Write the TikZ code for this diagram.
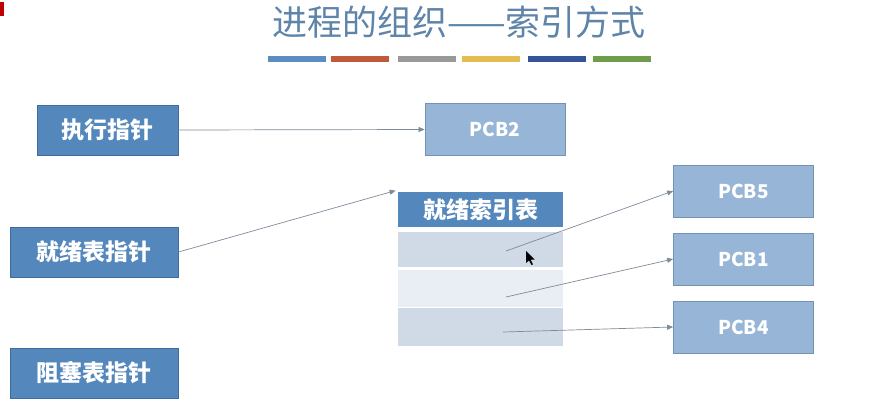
\documentclass[tikz,border=0pt]{standalone}
\usepackage{fontspec}
\setmainfont{Noto Sans CJK SC}
\usetikzlibrary{arrows.meta}
\definecolor{titleblue}{HTML}{5F84AA}
\definecolor{darkbox}{HTML}{5488BC}
\definecolor{darkedge}{HTML}{3F6D9A}
\definecolor{lightbox}{HTML}{97B5D6}
\definecolor{lightedge}{HTML}{7393B5}
\definecolor{rowA}{HTML}{D0D9E6}
\definecolor{rowB}{HTML}{E9EDF4}
\definecolor{linkgray}{HTML}{7E8C9A}
\definecolor{barA}{HTML}{5B8DC0}
\definecolor{barB}{HTML}{C15A3C}
\definecolor{barC}{HTML}{999999}
\definecolor{barD}{HTML}{E5BC52}
\definecolor{barE}{HTML}{34549A}
\definecolor{barF}{HTML}{6E9E4C}
\tikzset{
  ptrbox/.style={draw=darkedge, fill=darkbox, line width=0.8pt, text=white,
    font=\fontsize{23}{26}\selectfont\bfseries, inner sep=0pt},
  pcbbox/.style={draw=lightedge, fill=lightbox, line width=0.8pt, text=white,
    font=\fontsize{19}{22}\selectfont\bfseries, inner sep=0pt,
    minimum width=140pt, minimum height=52pt},
  rowbox/.style={draw=none, inner sep=0pt, minimum width=165pt},
  link/.style={draw=linkgray, line width=0.7pt,
    -{Triangle[length=6pt,width=5pt]}},
  bar/.style={line width=6pt},
}
\begin{document}
\begin{tikzpicture}[x=1pt, y=-1pt]
\useasboundingbox (0,0) rectangle (875,418);
\fill[white] (0,0) rectangle (875,418);

% corner mark
\fill[red!75!black] (0,2) rectangle (4,16);

% title and colour strip
\node[text=titleblue, font=\fontsize{35}{38}\selectfont] (title) at (459,22) {进程的组织——索引方式};
\foreach \x/\c in {268/barA, 331/barB, 398/barC, 462/barD, 528/barE, 593/barF}
  \draw[bar, \c] (\x,58.5) -- ++(58,0);

% pointer boxes
\node[ptrbox, minimum width=141pt, minimum height=50pt] (exec)  at (107.5,130) {执行指针};
\node[ptrbox, minimum width=168pt, minimum height=50pt] (ready) at (94,252)   {就绪表指针};
\node[ptrbox, minimum width=168pt, minimum height=50pt] (block) at (94,373)   {阻塞表指针};

% PCBs
\node[pcbbox] (pcb2) at (495,129.5) {PCB2};
\node[pcbbox] (pcb5) at (743.5,191) {PCB5};
\node[pcbbox] (pcb1) at (743.5,259) {PCB1};
\node[pcbbox] (pcb4) at (743.5,327) {PCB4};

% ready index table
\node[ptrbox, draw=none, minimum width=165pt, minimum height=35pt] (head) at (480.5,209.5) {就绪索引表};
\node[rowbox, fill=rowA, minimum height=35pt] (row1) at (480.5,249.5) {};
\node[rowbox, fill=rowB, minimum height=37pt] (row2) at (480.5,288.5) {};
\node[rowbox, fill=rowA, minimum height=38pt] (row3) at (480.5,327) {};
\coordinate (r1) at (506,251);
\coordinate (r2) at (506,297);
\coordinate (r3) at (503,332);

% links
\draw[link] (exec.east) -- (pcb2.west);
\draw[link] (ready.east) -- ([xshift=-2pt,yshift=1pt]head.north west);
\draw[link] (r1) -- (pcb5.west);
\draw[link] (r2) -- (pcb1.west);
\draw[link] (r3) -- (pcb4.west);

% mouse pointer
\fill[black] (526,251) -- (526,263) -- (529,260.5) -- (531.5,265) -- (533,264.3) -- (530.6,259.8) -- (534.5,259.5) -- cycle;
\end{tikzpicture}
\end{document}
